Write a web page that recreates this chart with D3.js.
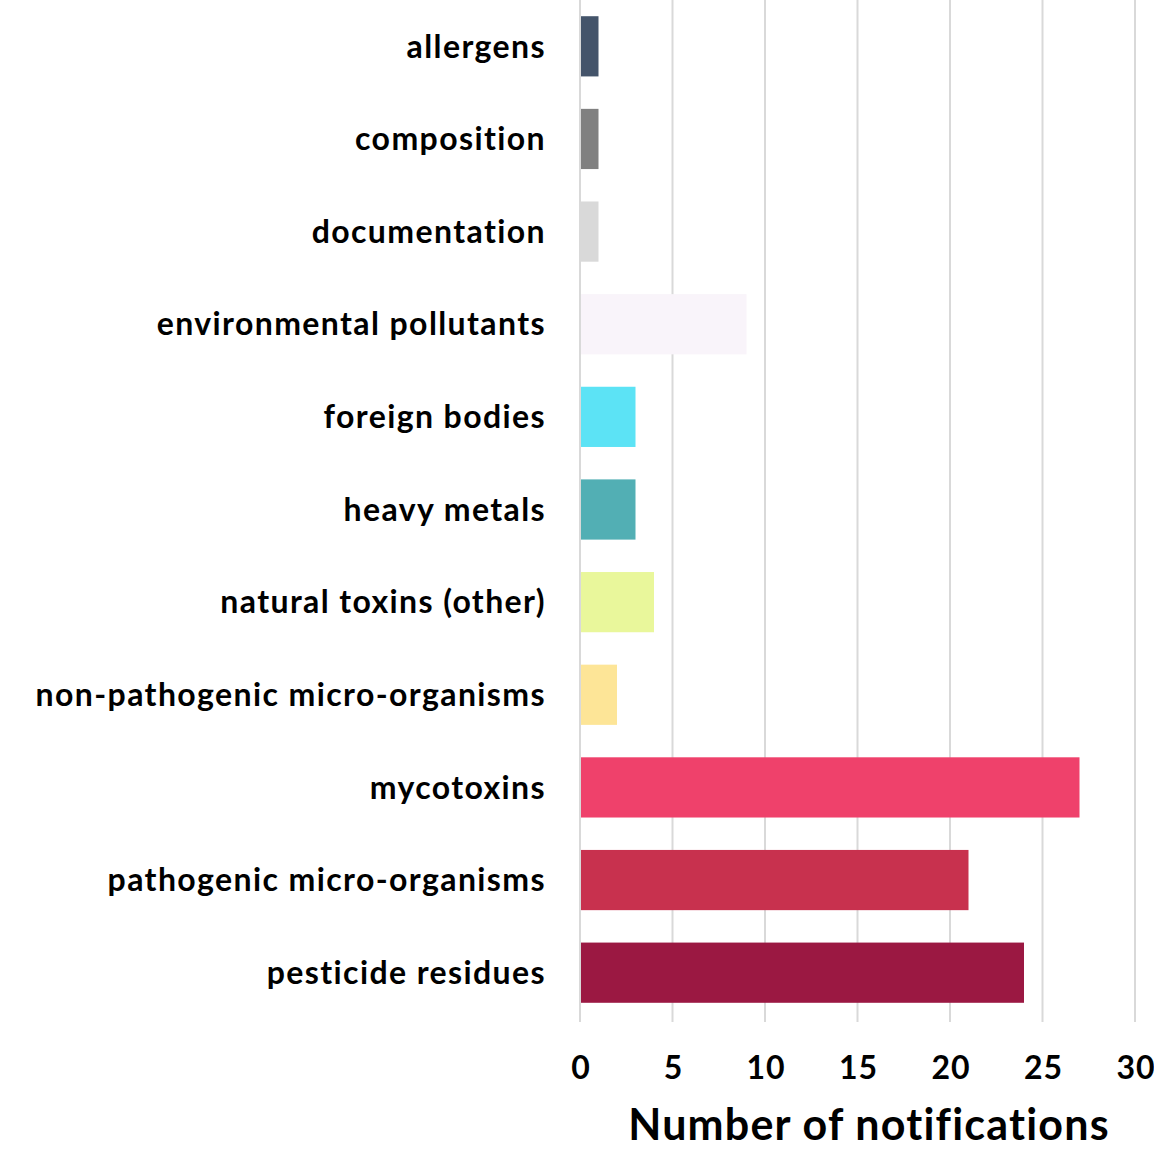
<!doctype html>
<html>
  <head>
    <script src="https://d3js.org/d3.v7.min.js" charset="utf-8"></script>
    <style>
      body { margin: 0; background: #fff; }
      text { font-family: Lato, "Open Sans", sans-serif; font-weight: bold; fill: #000; font-variant-ligatures: none; }
    </style>
  </head>
  <body>
    <script>

// hazard categories, top to bottom
var categories = ["allergens", "composition", "documentation", "environmental pollutants",
  "foreign bodies", "heavy metals", "natural toxins (other)", "non-pathogenic micro-organisms",
  "mycotoxins", "pathogenic micro-organisms", "pesticide residues"];
var counts = [1, 1, 1, 9, 3, 3, 4, 2, 27, 21, 24];
var colours = ["#44546a", "#808080", "#d9d9d9", "#f9f4fa", "#5ce3f5", "#52afb4",
  "#e9f79b", "#fde597", "#ef416b", "#c8314e", "#9b1842"];
var xTicks = [0, 5, 10, 15, 20, 25, 30];

var width = 1154, height = 1150;
var svg = d3.select("body")
  .append("svg")
    .attr("width", width)
    .attr("height", height);

var x = d3.scaleLinear().domain([0, 30]).range([580, 1135]);
var y = d3.scaleBand().domain(categories).range([0, 1019]).paddingInner(0.35).paddingOuter(0.175);

// vertical gridlines
svg.selectAll("line.grid")
  .data(xTicks)
  .enter()
  .append("line")
    .attr("class", "grid")
    .attr("x1", function(d) { return x(d); })
    .attr("x2", function(d) { return x(d); })
    .attr("y1", 0)
    .attr("y2", 1022)
    .attr("stroke", "#d9d9d9")
    .attr("stroke-width", 2);

// bars
svg.selectAll("rect.bar")
  .data(categories)
  .enter()
  .append("rect")
    .attr("class", "bar")
    .attr("x", x(0) + 1)
    .attr("y", function(d) { return y(d); })
    .attr("width", function(d, i) { return x(counts[i]) - x(0) - 1; })
    .attr("height", y.bandwidth())
    .attr("fill", function(d, i) { return colours[i]; });

// category labels (letter-spacing widens Lato towards the original's look)
svg.selectAll("text.cat")
  .data(categories)
  .enter()
  .append("text")
    .attr("class", "cat")
    .attr("x", 546)
    .attr("y", function(d) { return y(d) + y.bandwidth() / 2; })
    .attr("dy", "0.35em")
    .attr("text-anchor", "end")
    .style("font-size", "32px")
    .style("letter-spacing", "1.4px")
    .text(function(d) { return d; });

// x tick labels
svg.selectAll("text.tick")
  .data(xTicks)
  .enter()
  .append("text")
    .attr("class", "tick")
    .attr("x", function(d) { return x(d) + 1; })
    .attr("y", 1068)
    .attr("dy", "0.35em")
    .attr("text-anchor", "middle")
    .style("font-size", "32px")
    .style("letter-spacing", "1px")
    .text(function(d) { return d; });

// axis title
svg.append("text")
  .attr("x", 869)
  .attr("y", 1125)
  .attr("dy", "0.35em")
  .attr("text-anchor", "middle")
  .style("font-size", "43px")
  .style("letter-spacing", "1.2px")
  .text("Number of notifications");

    </script>
  </body>
</html>
